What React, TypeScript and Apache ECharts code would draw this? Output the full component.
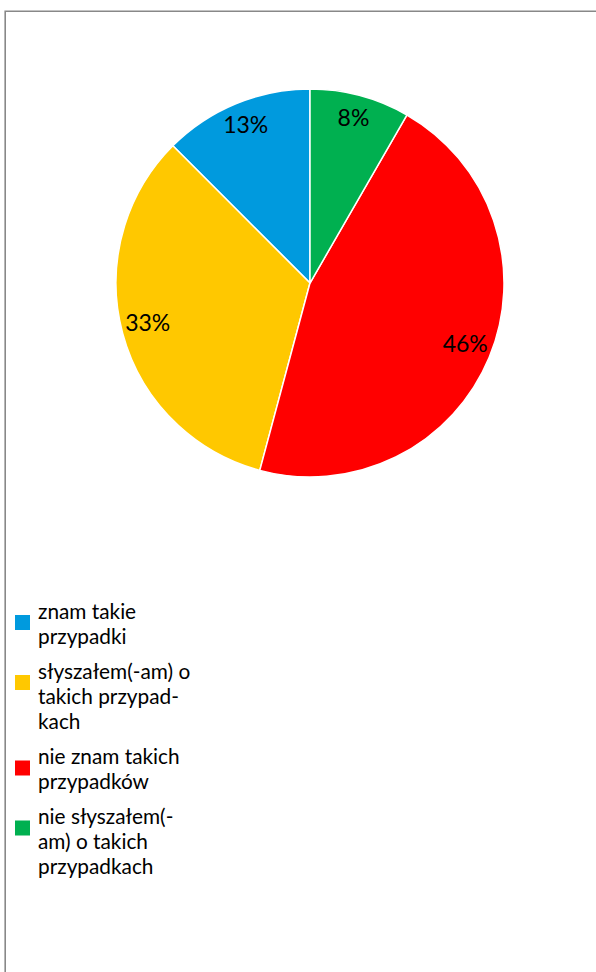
import React, { useEffect, useRef } from "react";
import * as echarts from "echarts";

const categories = [
  "znam takie przypadki",
  "słyszałem(-am) o takich przypadkach",
  "nie znam takich przypadków",
  "nie słyszałem(-am) o takich przypadkach",
];
const legendLines = [
  ["znam takie", "przypadki"],
  ["słyszałem(-am) o", "takich przypad-", "kach"],
  ["nie znam takich", "przypadków"],
  ["nie słyszałem(-", "am) o takich", "przypadkach"],
];
const counts = [3, 8, 11, 2];
const colors = ["#009ADE", "#FFC800", "#FF0000", "#00B050"];

const FONT = "Lato, 'Liberation Sans', sans-serif";
const LINE_H = 25;
const ICON = 15;
const iconCenters = [622.5, 682.5, 768, 828];

export default function App() {
  const ref = useRef<HTMLDivElement>(null);
  useEffect(() => {
    if (!ref.current) return;
    const chart = echarts.init(ref.current, undefined, { renderer: "svg" });
    const data = categories.map((name, i) => ({
      name,
      value: counts[i],
      itemStyle: { color: colors[i] },
    }));
    const legends = categories.map((name, i) => {
      const n = legendLines[i].length;
      // Icon box tall enough that the square sits beside the first two lines
      const boxH = ICON + (n - 2) * LINE_H;
      const icon =
        n > 2
          ? `path://M0,0L${ICON},0L${ICON},${ICON}L0,${ICON}Z M0,${boxH}L${ICON},${boxH}`
          : "rect";
      return {
        orient: "vertical",
        left: 15,
        top: iconCenters[i] - LINE_H,
        padding: 0,
        itemWidth: ICON,
        itemHeight: boxH,
        itemStyle: { borderWidth: 0 },
        data: [{ name, icon }],
        formatter: () => legendLines[i].join("\n"),
        textStyle: {
          fontFamily: FONT,
          fontSize: 20.8,
          lineHeight: LINE_H,
          color: "#000",
          padding: [0, 0, 0, 3],
        },
      };
    });
    chart.setOption({
      animation: false,
      backgroundColor: "#fff",
      graphic: [
        {
          type: "rect",
          shape: { x: 5.2, y: 11.2, width: 1000, height: 1200 },
          style: { fill: "none", stroke: "#888888", lineWidth: 1.6 },
          silent: true,
        },
      ],
      legend: legends,
      series: [
        {
          type: "pie",
          center: [310, 283],
          radius: [0, 194],
          startAngle: 90,
          clockwise: false,
          percentPrecision: 0,
          label: { show: false },
          labelLine: { show: false },
          itemStyle: { borderColor: "#fff", borderWidth: 1.5 },
          emphasis: { disabled: true },
          data,
        },
        {
          type: "pie",
          center: [310, 283],
          radius: [136, 194],
          startAngle: 90,
          clockwise: false,
          percentPrecision: 0,
          silent: true,
          itemStyle: { color: "transparent", borderWidth: 0 },
          label: {
            show: true,
            position: "inside",
            formatter: "{d}%",
            fontFamily: FONT,
            fontSize: 23,
            color: "#000",
            offset: [0, -4],
          },
          labelLine: { show: false },
          emphasis: { disabled: true },
          data: categories.map((name, i) => ({
            name,
            value: counts[i],
            itemStyle: { color: "transparent" },
          })),
        },
      ],
    });
    return () => chart.dispose();
  }, []);
  return (
    <div
      ref={ref}
      style={{ position: "absolute", left: 0, top: 0, width: 596, height: 972 }}
    />
  );
}
